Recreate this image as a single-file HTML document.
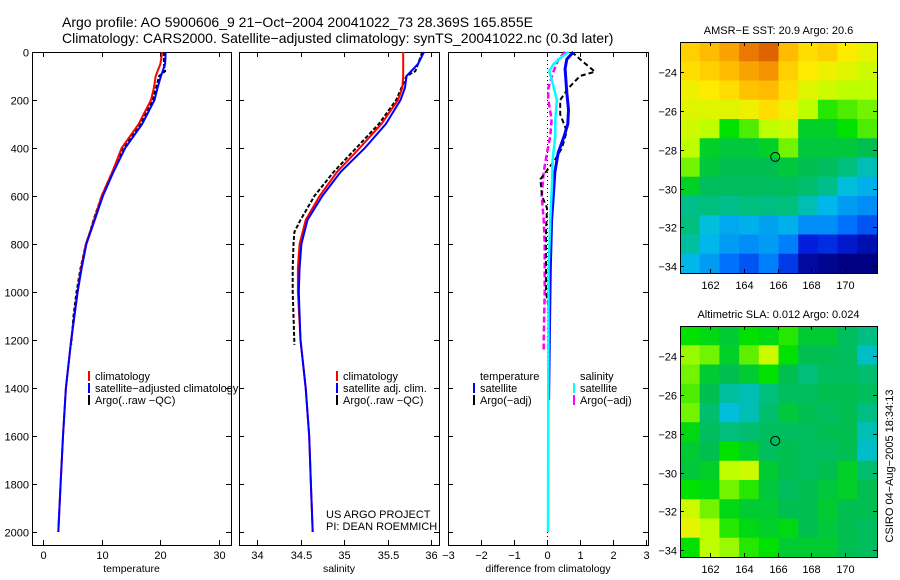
<!DOCTYPE html>
<html><head><meta charset="utf-8"><style>
body{margin:0;background:#fff;}
svg{display:block;font-family:"Liberation Sans",sans-serif;}
text{fill:#000;}
</style></head><body>
<svg id="fig" width="900" height="580" viewBox="0 0 900 580" xmlns="http://www.w3.org/2000/svg">
<text x="62" y="27" font-size="14">Argo profile: AO 5900606_9 21−Oct−2004 20041022_73 28.369S 165.855E</text>
<text x="62" y="43" font-size="14">Climatology: CARS2000. Satellite−adjusted climatology: synTS_20041022.nc (0.3d later)</text>
<g id="plots"></g>
</svg>
<script>
// ---- data ----
const depthTicks=[0,200,400,600,800,1000,1200,1400,1600,1800,2000];
const tempTicks=[0,10,20,30];
const salTicks=[34,34.5,35,35.5,36];
const diffTicks=[-3,-2,-1,0,1,2,3];
const diffTickLabels=["−3","−2","−1","0","1","2","3"];
const latTicks=[-24,-26,-28,-30,-32,-34];
const lonTicks=[162,164,166,168,170];

const depClim=[0,50,100,150,200,300,400,500,600,700,800,900,1000,1200,1400,1600,1800,2000];
const tempClim=[20.3,20.0,19.2,18.9,18.4,16.3,13.4,11.8,10.0,8.7,7.3,6.5,5.9,4.8,3.9,3.4,3.0,2.6];
const tempSat=[20.9,20.8,20.1,19.5,19.0,16.9,14.0,12.0,10.2,8.8,7.4,6.6,5.9,4.8,3.9,3.4,3.0,2.6];
const salClim=[35.68,35.68,35.68,35.67,35.62,35.43,35.18,34.92,34.72,34.56,34.49,34.47,34.47,34.5,34.56,34.6,34.62,34.64];
const salSat=[35.92,35.85,35.72,35.7,35.65,35.48,35.24,34.96,34.75,34.58,34.51,34.49,34.48,34.5,34.56,34.6,34.62,34.64];

const depArgo=[0,50,80,100,200,300,400,500,600,700,750,800,900,1000,1100,1220];
const tempArgo=[20.6,20.6,20.8,19.8,18.7,16.5,13.6,11.8,10.0,8.6,8.0,7.3,6.4,5.7,5.2,4.8];
const salArgo=[35.9,35.85,35.82,35.72,35.6,35.4,35.14,34.88,34.66,34.5,34.43,34.42,34.41,34.41,34.42,34.43];

const depDT=[0,30,70,170,240,300,350,420,500,600,700,900,1200,1450];
const diffTempSat=[0.8,0.6,0.55,0.6,0.65,0.63,0.52,0.34,0.24,0.19,0.14,0.1,0.07,0.05];
const depDS=[0,20,50,80,120,200,280,350,450,550,700,900,1400,2000];
const diffSalSat=[0.65,0.45,0.2,0.07,0.15,0.3,0.25,0.25,0.17,0.15,0.1,0.05,0.04,0.03];
const depDA=[0,30,82,100,150,200,260,330,400,450,530,600,650,750,1000,1100,1240];
const diffTempArgo=[0.75,1.0,1.45,1.0,0.65,0.4,0.4,0.6,0.45,0.24,-0.2,-0.15,0,-0.03,-0.03,0.09,0.05];
const depDM=[0,30,80,150,200,280,350,420,500,600,700,800,1000,1200,1240];
const diffSalArgo=[0.55,0.35,0.2,0.04,0.04,0.14,0.1,0,-0.1,-0.16,-0.1,-0.07,-0.07,-0.1,-0.1];

const sstGrid=[
[.82,.85,.88,.93,.95,.85,.8,.82,.78,.75],
[.8,.82,.85,.88,.9,.82,.78,.76,.74,.72],
[.76,.78,.8,.84,.85,.8,.74,.72,.7,.7],
[.74,.74,.74,.76,.8,.76,.7,.62,.64,.66],
[.72,.7,.6,.64,.7,.72,.56,.56,.6,.64],
[.7,.56,.54,.54,.56,.66,.54,.54,.54,.52],
[.66,.54,.52,.52,.52,.54,.52,.5,.46,.4],
[.56,.5,.5,.5,.5,.5,.48,.44,.36,.33],
[.44,.46,.44,.46,.45,.46,.4,.34,.3,.28],
[.46,.36,.32,.33,.31,.33,.28,.28,.24,.2],
[.42,.34,.3,.28,.3,.26,.12,.14,.1,.06],
[.34,.3,.24,.2,.26,.16,.04,.02,0,0]];
const slaGrid=[
[.6,.58,.55,.6,.58,.62,.55,.55,.5,.45],
[.68,.66,.56,.65,.72,.6,.52,.52,.5,.38],
[.66,.55,.52,.55,.6,.52,.46,.5,.5,.48],
[.64,.52,.42,.4,.46,.5,.5,.52,.52,.5],
[.66,.48,.36,.4,.48,.54,.52,.5,.52,.45],
[.58,.5,.46,.48,.5,.5,.5,.52,.52,.4],
[.55,.52,.6,.56,.5,.52,.5,.5,.52,.38],
[.54,.56,.7,.72,.55,.52,.5,.52,.56,.48],
[.6,.58,.66,.62,.54,.5,.52,.54,.56,.52],
[.72,.66,.58,.55,.55,.52,.52,.55,.52,.52],
[.75,.7,.62,.58,.56,.58,.52,.54,.52,.5],
[.6,.7,.68,.62,.6,.55,.55,.55,.52,.5]];
const floatPos=[165.855,-28.369];

// ---- drawing ----
const NS="http://www.w3.org/2000/svg";
const G=document.getElementById('plots');
function mk(tag,at,parent){const e=document.createElementNS(NS,tag);for(const k in at)e.setAttribute(k,at[k]);(parent||G).appendChild(e);return e;}
const Y0=52,YB=545;
const yD=d=>Y0+d*0.24;
function line(xs,ds,xf,color,w,dash,name){
  const p=xs.map((v,i)=>xf(v).toFixed(1)+','+yD(ds[i]).toFixed(1)).join(' ');
  const e=mk('polyline',{points:p,fill:'none',stroke:color,'stroke-width':w});
  if(dash)e.setAttribute('stroke-dasharray',dash);
  
  
}
function txt(x,y,s,size,anchor,name){const e=mk('text',{x:x,y:y,'font-size':size,'text-anchor':anchor||'start'});e.textContent=s;
  
  return e;}
function panel(x0,x1,xf,ticks,labels,xlabel,name,showY){
  const r=mk('rect',{x:x0+.5,y:Y0+.5,width:x1-x0,height:YB-Y0,fill:'none',stroke:'#000','stroke-width':1});
  
  
  depthTicks.forEach(d=>{const y=yD(d)+.5;
    mk('line',{x1:x0,x2:x0+5,y1:y,y2:y,stroke:'#000'});mk('line',{x1:x1-5,x2:x1,y1:y,y2:y,stroke:'#000'});
    if(showY)txt(x0-3,y+4,String(d),11,'end','depth-tick-label');});
  ticks.forEach((t,i)=>{const x=Math.round(xf(t))+.5;
    mk('line',{x1:x,x2:x,y1:Y0,y2:Y0+5,stroke:'#000'});mk('line',{x1:x,x2:x,y1:YB-5,y2:YB,stroke:'#000'});
    txt(x,559,labels[i],11,'middle',name+'-tick-label');});
  txt((x0+x1)/2,572,xlabel,10.5,'middle',name+'-x-axis-title');
}
const xT=v=>43+v*5.87, xS=v=>257+(v-34)*87, xF=v=>547+v*33;
panel(32,231,xT,tempTicks,tempTicks.map(String),'temperature','temperature-panel',true);
panel(239,439,xS,salTicks,salTicks.map(String),'salinity','salinity-panel',false);
panel(448,648,xF,diffTicks,diffTickLabels,'difference from climatology','difference-panel',false);

line(tempArgo,depArgo,xT,'#000',2,'4,2','temp-argo-line');
line(tempClim,depClim,xT,'#f00',2,null,'temp-climatology-line');
line(tempSat,depClim,xT,'#00f',2,null,'temp-satellite-line');
line(salArgo,depArgo,xS,'#000',2,'4,2','sal-argo-line');
line(salClim,depClim,xS,'#f00',2,null,'sal-climatology-line');
line(salSat,depClim,xS,'#00f',2,null,'sal-satellite-line');
const zl=mk('line',{x1:547.5,x2:547.5,y1:Y0,y2:YB,stroke:'#000','stroke-dasharray':'1,3'});


line(diffSalArgo,depDM,xF,'#f0f',2.5,'6,3','diff-sal-argo-line');
line(diffTempArgo,depDA,xF,'#000',2,'5,3','diff-temp-argo-line');
line(diffTempSat,depDT,xF,'#00f',3,null,'diff-temp-satellite-line');
line(diffSalSat,depDS,xF,'#0ff',2.5,null,'diff-sal-satellite-line');

function legend(x,y,items,name){items.forEach((it,i)=>{
  if(it[1]){const m=mk('rect',{x:x,y:y+i*12-9,width:2,height:10,fill:it[1]});
    
    }
  txt(x+7,y+i*12,it[0],11,'start',name+'-label');});}
legend(88,380,[['climatology','#f00'],['satellite−adjusted climatology','#00f'],['Argo(..raw −QC)','#000']],'temp-legend');
legend(336,380,[['climatology','#f00'],['satellite adj. clim.','#00f'],['Argo(..raw −QC)','#000']],'sal-legend');
legend(473,380,[['temperature',null],['satellite','#00f'],['Argo(−adj)','#000']],'diff-temp-legend');
legend(573,380,[['salinity',null],['satellite','#0ff'],['Argo(−adj)','#f0f']],'diff-sal-legend');
txt(326,518,'US ARGO PROJECT',11,'start','project-credit');
txt(326,530,'PI: DEAN ROEMMICH',11,'start','pi-credit');

// maps
const cmapStops=[[0,[0,0,130]],[0.12,[0,30,220]],[0.25,[0,120,255]],[0.35,[0,190,230]],[0.45,[0,190,130]],[0.52,[0,190,80]],[0.6,[0,225,0]],[0.7,[190,255,0]],[0.78,[255,235,0]],[0.86,[255,180,0]],[0.93,[235,120,0]],[1,[190,50,0]]];
function cmap(v){v=Math.max(0,Math.min(1,v));
  for(let i=1;i<cmapStops.length;i++){const a=cmapStops[i-1],b=cmapStops[i];
    if(v<=b[0]){const t=(v-a[0])/(b[0]-a[0]);const c=a[1].map((x,k)=>Math.round(x+(b[1][k]-x)*t));return `rgb(${c[0]},${c[1]},${c[2]})`;}}
  return 'rgb(190,50,0)';}
function map(top,grid,title,name){
  const L=680,R=877,B=top+231,lon0=160.2,lon1=171.9,lat0=-22.45,lat1=-34.35;
  const xl=v=>L+(v-lon0)/(lon1-lon0)*(R-L), yl=v=>top+(v-lat0)/(lat1-lat0)*(B-top);
  const nr=grid.length,nc=grid[0].length,cw=(R-L)/nc,ch=(B-top)/nr;
  grid.forEach((row,i)=>row.forEach((v,j)=>{
    const c=mk('rect',{x:L+j*cw,y:top+i*ch,width:cw+.6,height:ch+.6,fill:cmap(v)});
    
    }));
  const f=mk('rect',{x:L+.5,y:top+.5,width:R-L,height:B-top,fill:'none',stroke:'#000'});
  
  
  latTicks.forEach(t=>{const y=Math.round(yl(t))+.5;mk('line',{x1:L,x2:L+4,y1:y,y2:y,stroke:'#000'});mk('line',{x1:R-4,x2:R,y1:y,y2:y,stroke:'#000'});
    txt(L-3,y+4,String(t).replace('-','−'),11,'end',name+'-lat-label');});
  lonTicks.forEach(t=>{const x=Math.round(xl(t))+.5;mk('line',{x1:x,x2:x,y1:top,y2:top+4,stroke:'#000'});mk('line',{x1:x,x2:x,y1:B-4,y2:B,stroke:'#000'});
    txt(x,B+16,String(t),11,'middle',name+'-lon-label');});
  const c=mk('circle',{cx:xl(floatPos[0]),cy:yl(floatPos[1]),r:4.5,fill:'none',stroke:'#000'});
  
  
  txt((L+R)/2,top-8,title,11,'middle',name+'-title');
}
map(42,sstGrid,'AMSR−E SST: 20.9 Argo: 20.6','sst-map');
map(326,slaGrid,'Altimetric SLA: 0.012 Argo: 0.024','sla-map');
const st=txt(0,0,'CSIRO 04−Aug−2005 18:34:13',11,'middle','timestamp');
st.setAttribute('transform','translate(893,466) rotate(-90)');
</script>
</body></html>
